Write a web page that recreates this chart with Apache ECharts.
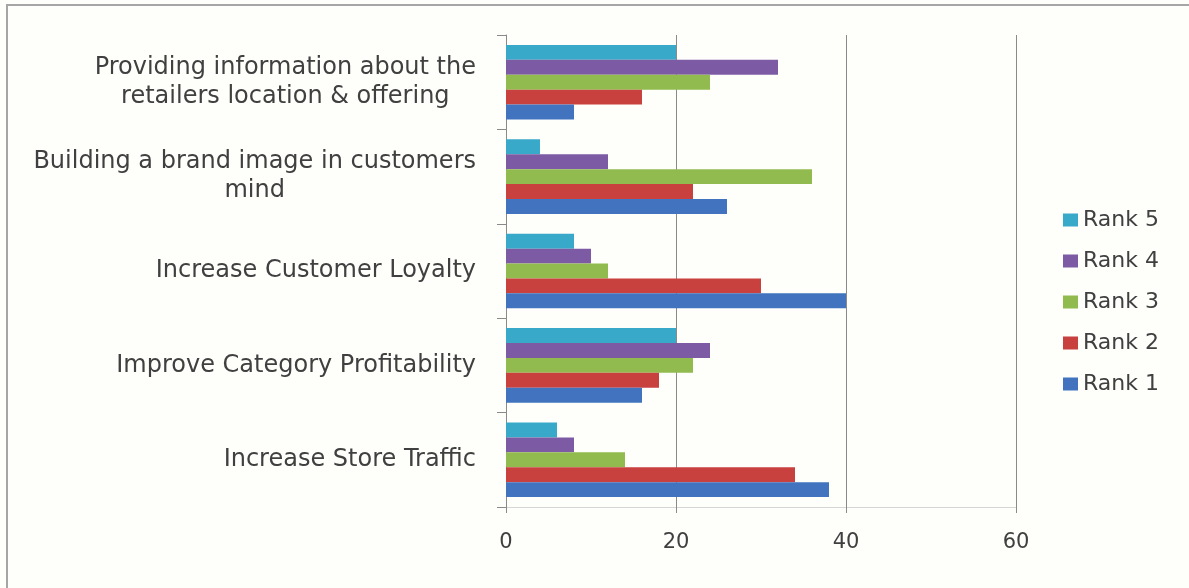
<!DOCTYPE html>
<html>
<head>
<meta charset="utf-8">
<script src="https://cdn.jsdelivr.net/npm/echarts@6/dist/echarts.min.js"></script>
<style>
html,body{margin:0;padding:0;background:#fefefb;}
#chart{width:1189px;height:588px;}
</style>
</head>
<body>
<div id="chart"></div>
<script>
const categories = [
  "Increase Store Traffic",
  "Improve Category Profitability",
  "Increase Customer Loyalty",
  "Building a brand image in customers\nmind",
  "Providing information about the\nretailers location & offering"
];
const seriesNames = ["Rank 1", "Rank 2", "Rank 3", "Rank 4", "Rank 5"];
const rank1 = [38, 16, 40, 26, 8];
const rank2 = [34, 18, 30, 22, 16];
const rank3 = [14, 22, 12, 36, 24];
const rank4 = [8, 24, 10, 12, 32];
const rank5 = [6, 20, 8, 4, 20];
const xTicks = [0, 20, 40, 60];
const colors = ["#4173bf", "#c9413f", "#92bb4f", "#7d5ba4", "#38a9c9"];

const values = [rank1, rank2, rank3, rank4, rank5];
const chart = echarts.init(document.getElementById('chart'));

const labelFont = 'DejaVu Sans';
// series listed Rank 5 first so that Rank 1 is drawn lowest in each group
const order = [4, 3, 2, 1, 0];
const option = {
  backgroundColor: '#fefefb',
  animation: false,
  graphic: [{
    type: 'rect',
    shape: {x: 7, y: 5, width: 1250, height: 640},
    style: {fill: 'none', stroke: '#a6a6a6', lineWidth: 2},
    silent: true
  }],
  grid: {left: 506, right: 173, top: 35, bottom: 81, containLabel: false},
  legend: {
    orient: 'vertical',
    left: 1058,
    top: 204,
    itemWidth: 15,
    itemHeight: 13,
    itemGap: 19,
    icon: 'rect',
    data: seriesNames.slice().reverse(),
    textStyle: {fontFamily: labelFont, fontSize: 22, color: '#404040'}
  },
  xAxis: {
    type: 'value',
    min: xTicks[0],
    max: xTicks[xTicks.length - 1],
    interval: 20,
    axisLine: {show: true, lineStyle: {color: '#d6d6d6', width: 1}},
    axisTick: {show: true, length: 6, lineStyle: {color: '#8a8a8a'}},
    splitLine: {show: true, lineStyle: {color: '#8a8a8a', width: 1}},
    axisLabel: {fontFamily: labelFont, fontSize: 21, color: '#404040', margin: 25}
  },
  yAxis: {
    type: 'category',
    data: categories,
    axisLine: {show: true, lineStyle: {color: '#8a8a8a', width: 1}},
    axisTick: {show: true, length: 9, alignWithLabel: false, lineStyle: {color: '#8a8a8a'}},
    axisLabel: {
      margin: 30,
      fontFamily: labelFont,
      fontSize: 24,
      color: '#404040',
      lineHeight: 29,
      align: 'right',
      formatter: function (v) {
        return v.split('\n').map(s => '{c|' + s + '}').join('\n');
      },
      rich: {
        c: {align: 'center', fontFamily: labelFont, fontSize: 24, color: '#404040', lineHeight: 29}
      }
    }
  },
  series: order.map(i => ({
    name: seriesNames[i],
    type: 'bar',
    data: values[i],
    barGap: '0%',
    barCategoryGap: '21%',
    itemStyle: {color: colors[i]}
  }))
};
chart.setOption(option);
</script>
</body>
</html>
